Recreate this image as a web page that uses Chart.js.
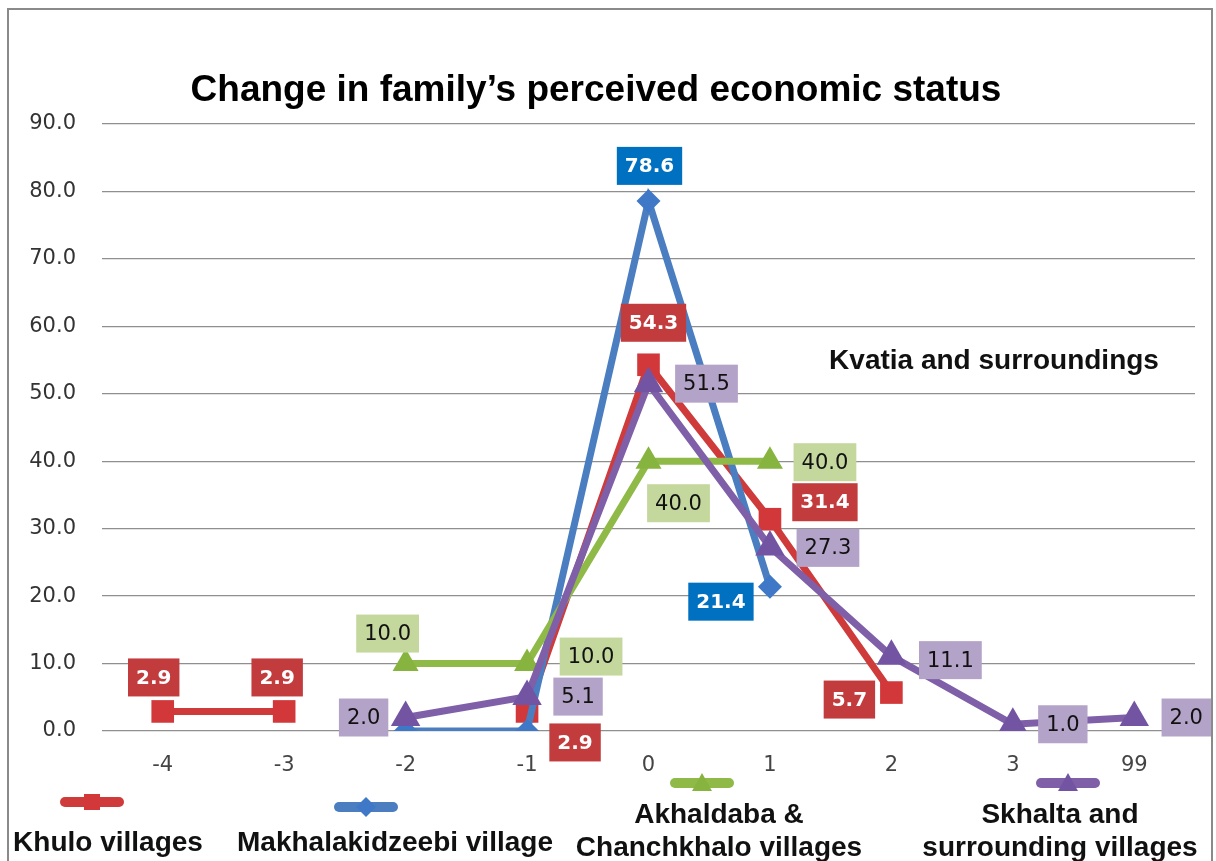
<!DOCTYPE html>
<html>
<head>
<meta charset="utf-8">
<script src="https://cdn.jsdelivr.net/npm/chart.js@4/dist/chart.umd.min.js"></script>
<style>
  html, body { margin: 0; padding: 0; background: #fff; }
  #wrap { width: 1216px; height: 861px; position: relative; }
</style>
</head>
<body>
<div id="wrap"><canvas id="chart"></canvas></div>
<script>
const categories = ['-4', '-3', '-2', '-1', '0', '1', '2', '3', '99'];
const khulo = [2.9, 2.9, null, 2.9, 54.3, 31.4, 5.7, null, null];
const makhalakidzeebi = [null, null, 0, 0, 78.6, 21.4, null, null, null];
const akhaldaba = [null, null, 10.0, 10.0, 40.0, 40.0, null, null, null];
const skhalta = [null, null, 2.0, 5.1, 51.5, 27.3, 11.1, 1.0, 2.0];
const yMin = 0, yMax = 90, yStep = 10;

const titleText = 'Change in family\u2019s perceived economic status';
const noteText = 'Kvatia and surroundings';

// label box offsets from each point (px), per series
const labelOffsets = [
  [[-9, -34], [-7, -34], null, [48, 31], [5, -42], [55, -17], [-42, 7], null, null],
  [null, null, null, null, [1, -35], [-49, 15], null, null, null],
  [null, null, [-18, -30], [64, -7], [30, 42], [55, 1], null, null, null],
  [null, null, [-42, 0], [51, 0], [58, 0], [58, 1], [59, 4], [50, 0], [52, 0]],
];
const labelStyles = [
  { bg: '#C23B3D', fg: '#fff', font: 'bold 20px "DejaVu Sans"' },
  { bg: '#0070C0', fg: '#fff', font: 'bold 20px "DejaVu Sans"' },
  { bg: '#C4D79D', fg: '#111', font: '21px "DejaVu Sans"' },
  { bg: '#B4A3C8', fg: '#111', font: '21px "DejaVu Sans"' },
];

const dataLabels = {
  id: 'dataLabels',
  afterDatasetsDraw(chart) {
    const ctx = chart.ctx;
    ctx.save();
    ctx.textAlign = 'center';
    ctx.textBaseline = 'middle';
    chart.data.datasets.forEach((ds, di) => {
      const meta = chart.getDatasetMeta(di);
      ds.data.forEach((v, i) => {
        const off = labelOffsets[di][i];
        if (v === null || v === 0 || !off) return;
        const pt = meta.data[i];
        const st = labelStyles[di];
        const txt = v.toFixed(1);
        ctx.font = st.font;
        const w = ctx.measureText(txt).width + 16;
        const h = 38;
        const cx = pt.x + off[0], cy = pt.y + off[1];
        ctx.fillStyle = st.bg;
        ctx.fillRect(cx - w / 2, cy - h / 2, w, h);
        ctx.fillStyle = st.fg;
        ctx.fillText(txt, cx, cy + 1);
      });
    });
    ctx.restore();
  }
};

// legend entries: sample line + marker, text lines underneath
const legendItems = [
  { sx: 92, sy: 802, lines: ['Khulo villages'], tx: 108, ty: [851] },
  { sx: 366, sy: 807, lines: ['Makhalakidzeebi village'], tx: 395, ty: [851] },
  { sx: 702, sy: 783, lines: ['Akhaldaba &', 'Chanchkhalo villages'], tx: 719, ty: [823, 856] },
  { sx: 1068, sy: 783, lines: ['Skhalta and', 'surrounding villages'], tx: 1060, ty: [823, 856] },
];

function marker(ctx, style, x, y, r) {
  ctx.beginPath();
  if (style === 'rect') {
    ctx.rect(x - r * 0.8, y - r * 0.8, 1.6 * r, 1.6 * r);
  } else if (style === 'rectRot') {
    ctx.moveTo(x, y - r); ctx.lineTo(x + r, y); ctx.lineTo(x, y + r); ctx.lineTo(x - r, y);
    ctx.closePath();
  } else {
    ctx.moveTo(x, y - r); ctx.lineTo(x + r, y + r * 0.8); ctx.lineTo(x - r, y + r * 0.8);
    ctx.closePath();
  }
  ctx.fill();
}

const decorations = {
  id: 'decorations',
  beforeDraw(chart) {
    const ctx = chart.ctx;
    ctx.save();
    ctx.fillStyle = '#fff';
    ctx.fillRect(0, 0, chart.width, chart.height);
    ctx.strokeStyle = '#8a8a8a';
    ctx.lineWidth = 2;
    ctx.strokeRect(8, 9, 1204, 870);
    ctx.restore();
  },
  afterDraw(chart) {
    const ctx = chart.ctx;
    ctx.save();
    ctx.fillStyle = '#000';
    ctx.textAlign = 'center';
    ctx.textBaseline = 'alphabetic';
    ctx.font = 'bold 37px "Liberation Sans", Arial, sans-serif';
    ctx.fillText(titleText, 596, 101);
    ctx.font = 'bold 28px "Liberation Sans", Arial, sans-serif';
    ctx.fillStyle = '#111';
    ctx.fillText(noteText, 994, 369);

    chart.data.datasets.forEach((ds, di) => {
      const it = legendItems[di];
      ctx.strokeStyle = ds.borderColor;
      ctx.lineWidth = 10;
      ctx.lineCap = 'round';
      ctx.beginPath();
      ctx.moveTo(it.sx - 27, it.sy);
      ctx.lineTo(it.sx + 27, it.sy);
      ctx.stroke();
      ctx.fillStyle = ds.backgroundColor;
      marker(ctx, ds.pointStyle, it.sx, it.sy, 10);
      ctx.fillStyle = '#111';
      ctx.font = 'bold 28px "Liberation Sans", Arial, sans-serif';
      it.lines.forEach((l, k) => ctx.fillText(l, it.tx, it.ty[k]));
    });
    ctx.restore();
  }
};

new Chart(document.getElementById('chart'), {
  type: 'line',
  data: {
    labels: categories,
    datasets: [
      {
        label: 'Khulo villages', data: khulo, order: 4,
        borderColor: '#CF3A3A', backgroundColor: '#D2383A',
        borderWidth: 7, pointStyle: 'rect', pointRadius: 16, pointBorderWidth: 0,
      },
      {
        label: 'Makhalakidzeebi village', data: makhalakidzeebi, order: 3,
        borderColor: '#4A7EC0', backgroundColor: '#3F78C6',
        borderWidth: 7, pointStyle: 'rectRot', pointRadius: 12, pointBorderWidth: 0,
      },
      {
        label: 'Akhaldaba & Chanchkhalo villages', data: akhaldaba, order: 2,
        borderColor: '#8FBA48', backgroundColor: '#86B43E',
        borderWidth: 7, pointStyle: 'triangle', pointRadius: 15, pointBorderWidth: 0,
      },
      {
        label: 'Skhalta and surrounding villages', data: skhalta, order: 1,
        borderColor: '#7E5FA8', backgroundColor: '#7354A3',
        borderWidth: 7, pointStyle: 'triangle', pointRadius: 17, pointBorderWidth: 0,
      },
    ],
  },
  options: {
    responsive: true, maintainAspectRatio: false, animation: false,
    spanGaps: false,
    layout: { padding: { left: 0, top: 124, right: 21, bottom: 70 } },
    plugins: { legend: { display: false }, tooltip: { enabled: false } },
    scales: {
      x: {
        offset: true,
        grid: { display: false, drawTicks: false },
        border: { display: false },
        ticks: { padding: 22, color: '#444', font: { family: 'DejaVu Sans', size: 21 } },
        afterFit(scale) { scale.height = 60; },
      },
      y: {
        min: yMin, max: yMax,
        grid: { color: '#8f8f8f', lineWidth: 1.3, drawTicks: false },
        border: { display: false },
        ticks: {
          stepSize: yStep, padding: 26, color: '#333',
          font: { family: 'DejaVu Sans', size: 21 },
          callback: v => v.toFixed(1),
        },
        afterFit(scale) { scale.width = 102; },
      },
    },
  },
  plugins: [decorations, dataLabels],
});
</script>
</body>
</html>
